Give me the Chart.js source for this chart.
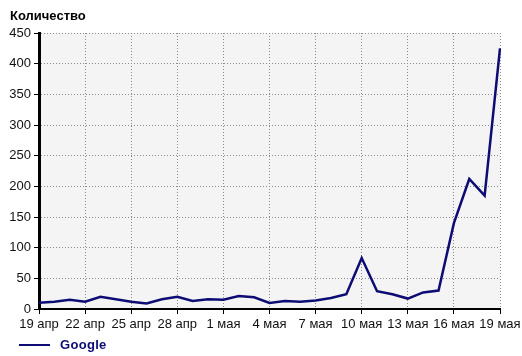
<!DOCTYPE html>
<html><head><meta charset="utf-8">
<script src="https://cdn.jsdelivr.net/npm/chart.js@4"></script>
<style>
html,body{margin:0;padding:0;background:#fff;}
#wrap{position:relative;width:522px;height:356px;overflow:hidden;}
#chart{position:absolute;left:0;top:0;}
#title{position:absolute;left:10px;top:8px;font:bold 13px "Liberation Sans",Arial,sans-serif;color:#000;}
#legend{position:absolute;left:19px;top:337px;height:16px;font:bold 13px "Liberation Sans",Arial,sans-serif;color:#0c0c74;white-space:nowrap;}
#legend .sw{position:absolute;left:0;top:7px;width:31px;height:2px;background:#0c0c74;}
#legend .tx{position:absolute;left:41px;top:0;line-height:16px;letter-spacing:0.3px;}
</style></head>
<body>
<div id="wrap">
<canvas id="chart" width="522" height="356"></canvas>
<div id="title">Количество</div>
<div id="legend"><span class="sw"></span><span class="tx">Google</span></div>
</div>
<script>
const categories = [
  "19 апр","20 апр","21 апр","22 апр","23 апр","24 апр","25 апр","26 апр","27 апр","28 апр",
  "29 апр","30 апр","1 мая","2 мая","3 мая","4 мая","5 мая","6 мая","7 мая","8 мая",
  "9 мая","10 мая","11 мая","12 мая","13 мая","14 мая","15 мая","16 мая","17 мая","18 мая","19 мая"
];
const googleValues = [
  10,12,15,12,20,16,12,9,16,20,
  13,16,15,21,19,10,13,12,14,18,
  24,83,29,24,17,27,30,140,212,185,425
];
const seriesName = "Google";
const yMin = 0, yMax = 450, yStep = 50;
const xLabelEvery = 3;

const bgPlugin = {
  id: 'plotBg',
  beforeDraw(chart) {
    const a = chart.chartArea, c = chart.ctx;
    c.save(); c.fillStyle = '#f4f4f4';
    c.fillRect(a.left, a.top, a.right - a.left, a.bottom - a.top);
    c.restore();
  }
};

new Chart(document.getElementById('chart'), {
  type: 'line',
  data: {
    labels: categories,
    datasets: [{
      label: seriesName,
      data: googleValues,
      borderColor: '#0c0c74',
      borderWidth: 2.5,
      pointRadius: 0,
      tension: 0,
      fill: false
    }]
  },
  options: {
    responsive: false,
    animation: false,
    layout: { padding: { left: 0, top: 33, right: 22, bottom: 0 } },
    plugins: { legend: { display: false }, title: { display: false }, tooltip: { enabled: false } },
    scales: {
      x: {
        type: 'category',
        offset: false,
        afterFit(s) { s.height = 47; s.paddingLeft = 0; s.paddingRight = 0; },
        grid: {
          color: c => (c.index % xLabelEvery === 0 ? '#8a8a8a' : 'rgba(0,0,0,0)'),
          tickColor: c => (c.index % xLabelEvery === 0 ? '#000' : 'rgba(0,0,0,0)'),
          tickLength: 5,
          lineWidth: 1
        },
        border: { color: '#000', width: 2, dash: [1, 2] },
        ticks: {
          autoSkip: false, maxRotation: 0, minRotation: 0, padding: 3,
          color: '#111',
          font: { family: '"Liberation Sans", Arial, sans-serif', size: 13 },
          callback: (v, i) => (i % xLabelEvery === 0 ? categories[i] : '')
        }
      },
      y: {
        min: yMin, max: yMax,
        afterFit(s) { s.width = 39; s.paddingTop = 0; s.paddingBottom = 0; },
        grid: { color: '#8a8a8a', tickColor: '#000', tickLength: 5, lineWidth: 1 },
        border: { color: '#000', width: 3, dash: [1, 2] },
        ticks: {
          stepSize: yStep, padding: 3, color: '#111',
          font: { family: '"Liberation Sans", Arial, sans-serif', size: 13 }
        }
      }
    }
  },
  plugins: [bgPlugin]
});
</script>
</body></html>
